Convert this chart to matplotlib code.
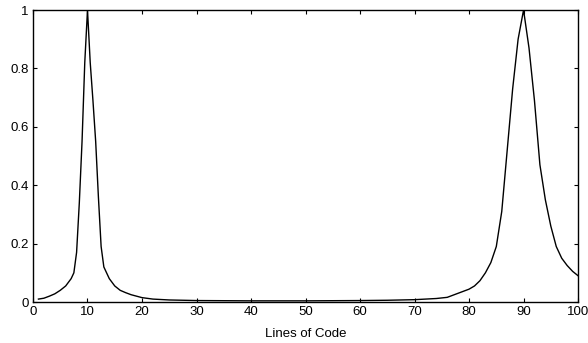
import matplotlib
matplotlib.use("Agg")
import matplotlib.pyplot as plt
from matplotlib.ticker import FuncFormatter

# Data
lines_of_code = [1, 2, 3, 4, 5, 6, 7, 7.5, 8, 8.5, 9, 9.5, 10, 10.5, 11, 11.5,
                 12, 12.5, 13, 14, 15, 16, 17, 18, 20, 22, 25, 30, 40, 50, 60,
                 65, 70, 72, 74, 76, 78, 80, 81, 82, 83, 84, 85, 86, 87, 88, 89,
                 90, 91, 92, 93, 94, 95, 96, 97, 98, 99, 100]
values = [0.01, 0.013, 0.02, 0.028, 0.04, 0.055, 0.08, 0.1, 0.17, 0.34, 0.55,
          0.82, 1.0, 0.82, 0.69, 0.55, 0.36, 0.19, 0.12, 0.08, 0.055, 0.04, 0.032,
          0.025, 0.015, 0.01, 0.007, 0.005, 0.004, 0.004, 0.005, 0.006, 0.008,
          0.01, 0.012, 0.016, 0.03, 0.044, 0.055, 0.073, 0.1, 0.135, 0.19,
          0.31, 0.52, 0.73, 0.9, 1.0, 0.87, 0.69, 0.47, 0.35, 0.26, 0.19, 0.15,
          0.125, 0.105, 0.09]
x_ticks = list(range(0, 101, 10))
y_ticks = [0, 0.2, 0.4, 0.6, 0.8, 1]

plt.rcParams['font.family'] = ['Liberation Sans', 'DejaVu Sans']

fig = plt.figure(figsize=(5.88, 3.43), dpi=100)
ax = fig.add_axes([0.0561, 0.1195, 0.927, 0.8513])
ax.plot(lines_of_code, values, color='black', linewidth=1.0)

ax.set_xlim(0, 100)
ax.set_ylim(0, 1)
ax.set_xticks(x_ticks)
ax.set_yticks(y_ticks)
ax.yaxis.set_major_formatter(FuncFormatter(lambda v, p: f"{v:g}"))
ax.tick_params(direction='in', length=3, width=0.8, labelsize=9.5,
               top=True, right=True, pad=3, colors='black')
for s in ax.spines.values():
    s.set_linewidth(1.0)
    s.set_color('black')
ax.set_xlabel("Lines of Code", fontsize=9.5, labelpad=7)

fig.savefig("out.png", dpi=100)
